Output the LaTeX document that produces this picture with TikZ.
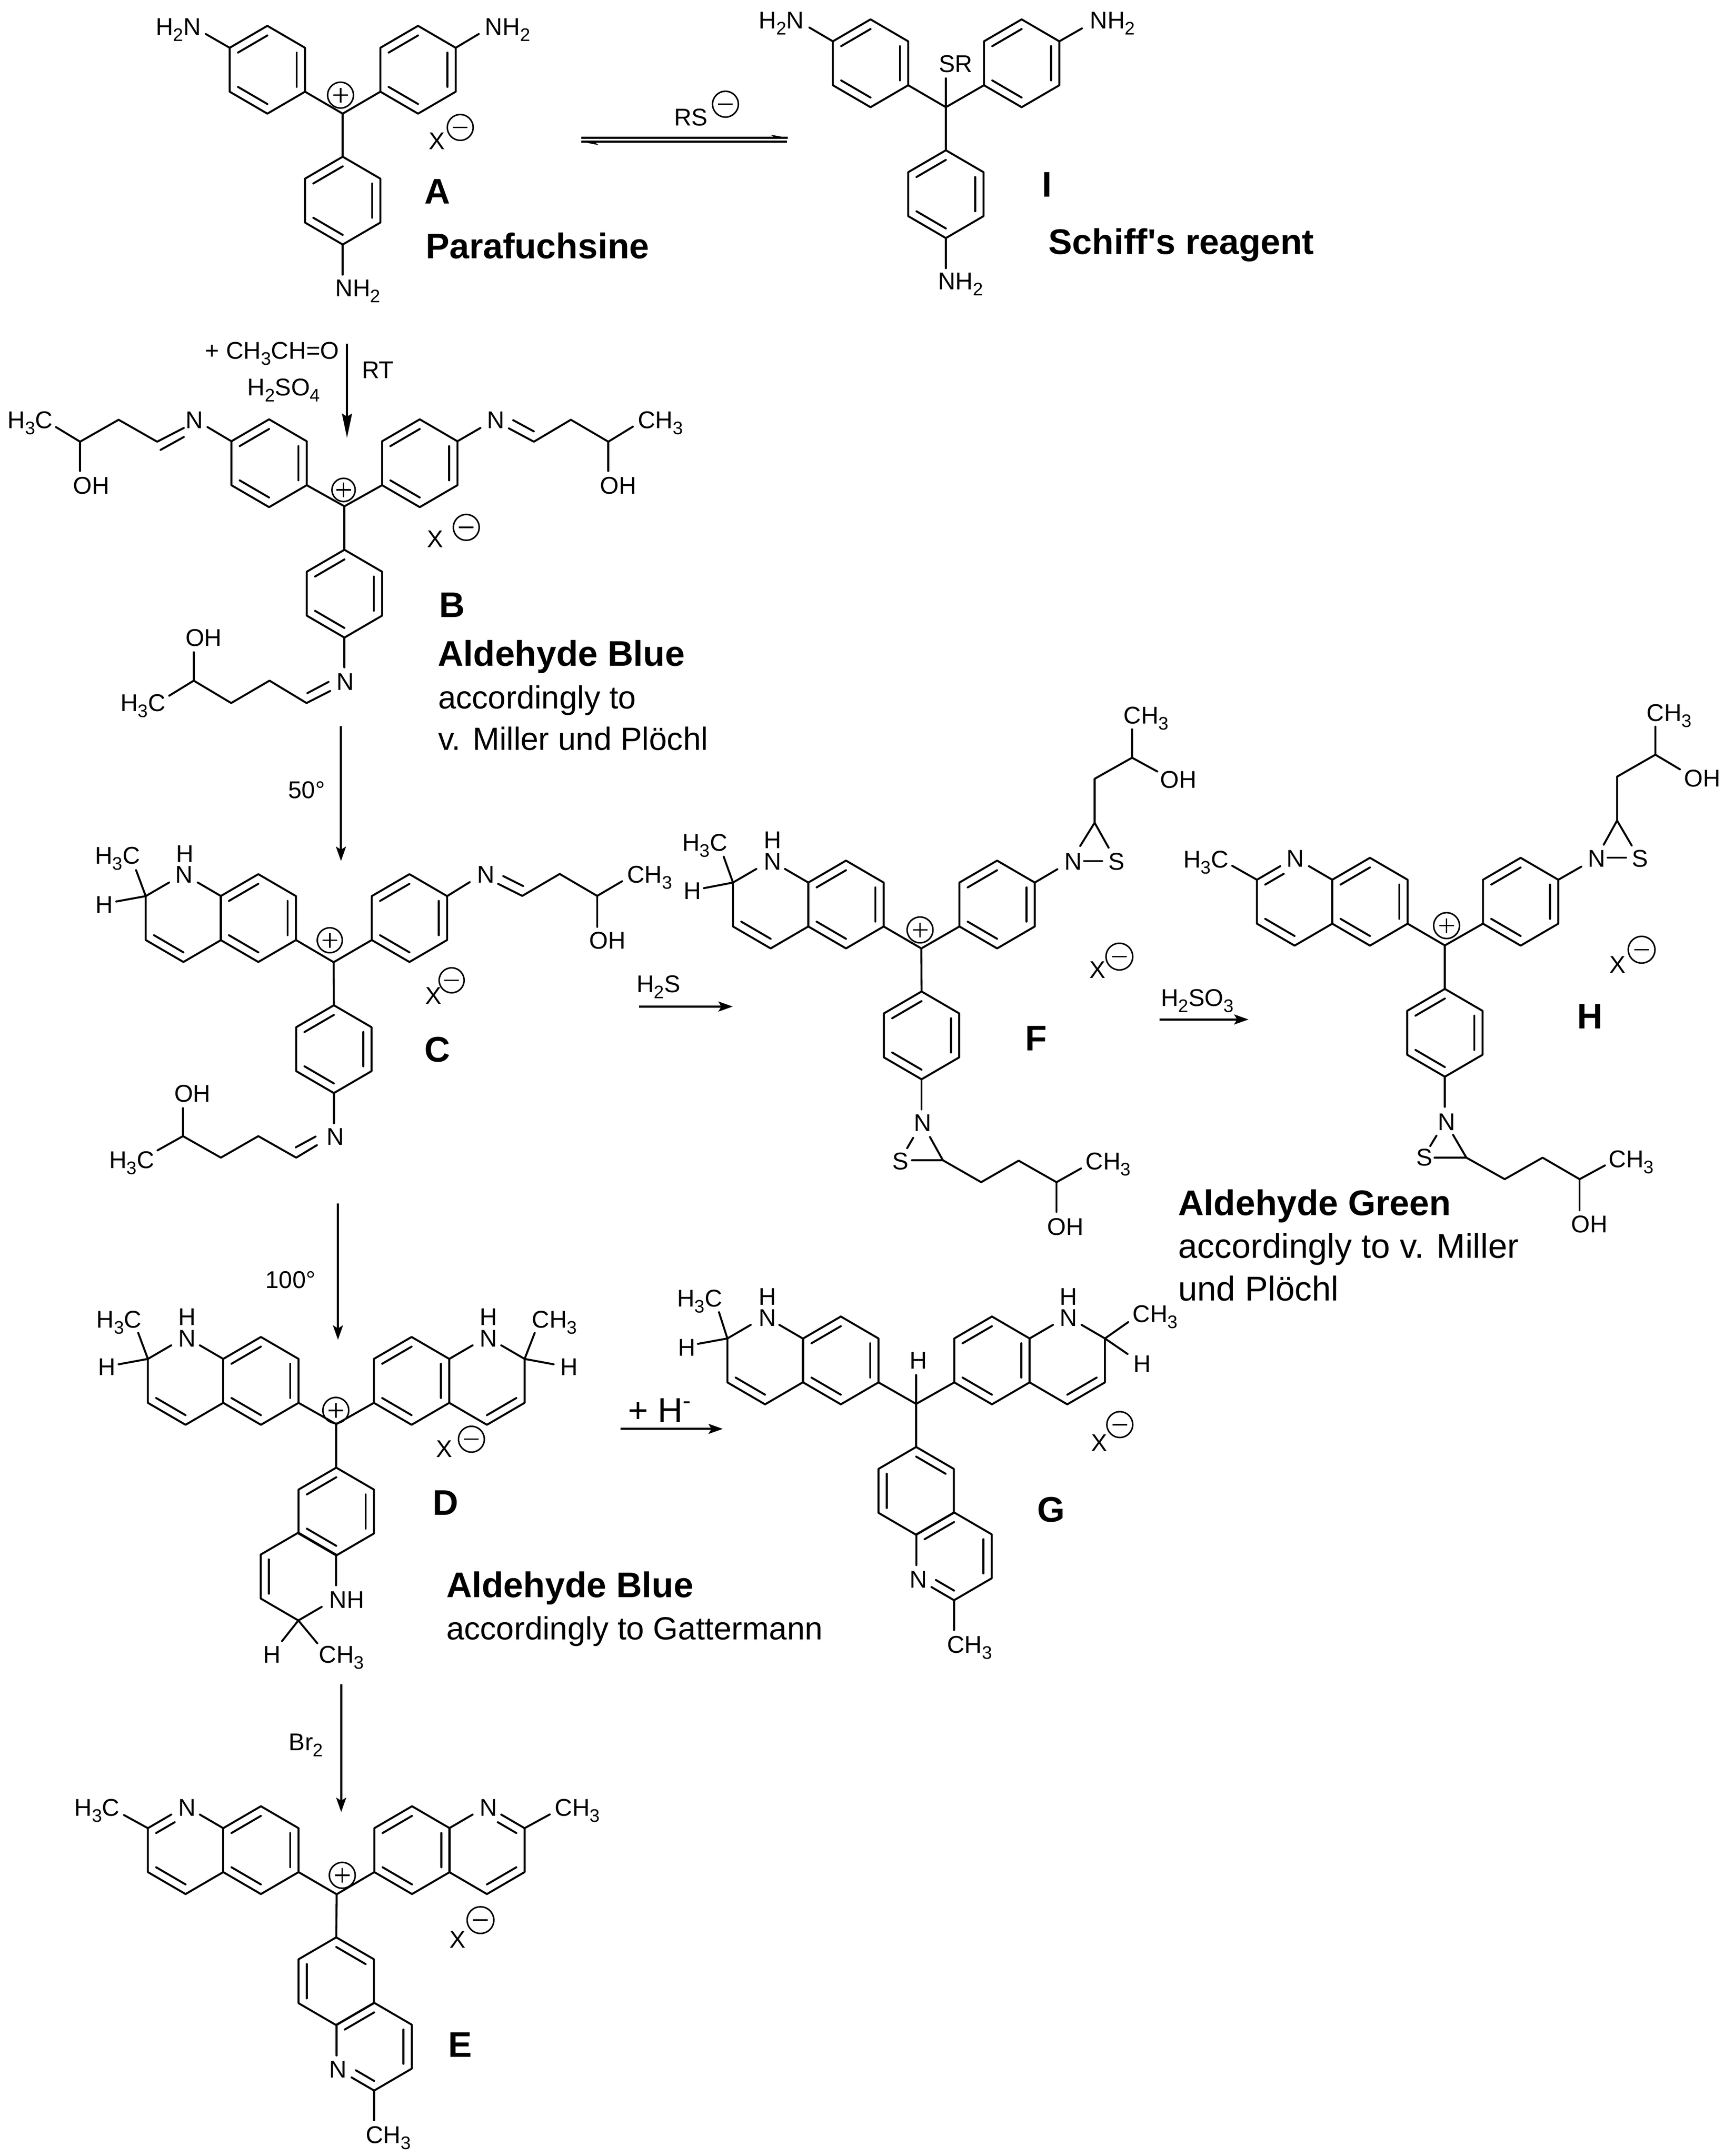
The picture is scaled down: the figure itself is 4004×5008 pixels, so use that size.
\documentclass[tikz,border=0pt]{standalone}
\usepackage{fontspec}
\setmainfont{Liberation Sans}
\usetikzlibrary{calc,arrows.meta}
\newcounter{txt}
\newcommand{\chemfont}{\fontsize{16}{19}\selectfont}
\newcommand{\namefont}{\bfseries\fontsize{23.5}{28}\selectfont}
\newcommand{\notefont}{\fontsize{21.2}{25}\selectfont}
\newcommand{\sbs}[1]{\raisebox{-0.14cm}{\fontsize{12}{14}\selectfont #1}}
\tikzset{
  bond/.style={line width=1.3pt,line cap=round,line join=round,black},
  chg/.style={line width=1pt,black},
  lab/.style={inner sep=0pt,anchor=base west,text=black,font=\chemfont},
  namelab/.style={lab,font=\namefont},
  notelab/.style={lab,font=\notefont},
  rarrow/.style={line width=1.3pt,-{Stealth[length=9.5pt,width=6.6pt,inset=2pt]}},
  longarrow/.style={line width=1.3pt,-{Stealth[length=16pt,width=6.6pt,inset=2pt]}},
}
\newcommand{\Tx}[3]{\stepcounter{txt}\node[lab] (t\arabic{txt}) at (#1,#2) {#3};}
\newcommand{\Tb}[3]{\stepcounter{txt}\node[namelab] (t\arabic{txt}) at (#1,#2) {#3};}
\newcommand{\Tr}[4][21.2]{\stepcounter{txt}\node[notelab,font=\fontsize{#1}{25}\selectfont] (t\arabic{txt}) at (#2,#3) {#4};}
\newcommand{\RingV}[3]{%
  \coordinate (#11) at (#2,#3-102);
  \coordinate (#12) at (#2+87.5,#3-51);
  \coordinate (#13) at (#2+87.5,#3+51);
  \coordinate (#14) at (#2,#3+102);
  \coordinate (#15) at (#2-87.5,#3+51);
  \coordinate (#16) at (#2-87.5,#3-51);
  \coordinate (#1i1) at (#2,#3-79.6);
  \coordinate (#1i2) at (#2+68.25,#3-39.8);
  \coordinate (#1i3) at (#2+68.25,#3+39.8);
  \coordinate (#1i4) at (#2,#3+79.6);
  \coordinate (#1i5) at (#2-68.25,#3+39.8);
  \coordinate (#1i6) at (#2-68.25,#3-39.8);
}
\newcommand{\Dbl}[2]{\edef\tmplist{#2}\foreach \ka/\kb in \tmplist {\draw[bond] (#1i\ka) -- (#1i\kb);}}
\newcommand{\Ring}[4]{\RingV{#1}{#2}{#3}\draw[bond] (#11)--(#12)--(#13)--(#14)--(#15)--(#16)--cycle;\Dbl{#1}{#4}}
% ring whose top vertex is an N label
\newcommand{\NTop}[4]{\RingV{#1}{#2}{#3}%
  \draw[bond] (#16)--(#15)--(#14)--(#13)--(#12);
  \draw[bond] (#16)--($(#16)!.62!(#11)$);
  \draw[bond] (#12)--($(#12)!.62!(#11)$);
  \Dbl{#1}{#4}}
\newcommand{\Pos}[3]{\draw[chg] (#1,#2) circle[radius=#3*0.01cm];
  \draw[chg] (#1-17,#2)--(#1+17,#2); \draw[chg] (#1,#2-17)--(#1,#2+17);}
\newcommand{\Neg}[3]{\draw[chg] (#1,#2) circle[radius=#3*0.01cm];
  \draw[chg] (#1-17,#2)--(#1+17,#2);}
\newcommand{\dpat}{6/1,2/3,4/5}
\begin{document}
\begin{tikzpicture}[x=0.01cm,y=-0.01cm]
\useasboundingbox (0,0) rectangle (4004,5008);
% ---------- A
\Ring{a}{621}{162}{\dpat}\Ring{b}{971}{162}{\dpat}\Ring{c}{796}{466}{\dpat}
\coordinate (ca) at (796,264);
\draw[bond] (a3)--(ca)--(b5); \draw[bond] (ca)--(c1);
\draw[bond] (a6)--(478,79); \draw[bond] (b2)--(1112,79); \draw[bond] (c4)--(796,638);
\Tx{361}{82}{H\sbs{2}N}\Tx{1126}{82}{NH\sbs{2}}\Tx{778}{689}{NH\sbs{2}}
\Pos{791}{221}{30}\Tx{995}{347}{X}\Neg{1069}{296}{30}
\Tb{985}{473}{A}\Tb{988}{600}{Parafuchsine}
% equilibrium
\coordinate (eqa) at (1350,320);\coordinate (eqb) at (1830,320);
\coordinate (eqc) at (1350,329);\coordinate (eqd) at (1828,329);
\draw[line width=1.4pt] (eqa)--(eqb); \draw[line width=1.4pt] (eqc)--(eqd);
\fill (eqb)--(1790,313)--(1800,320)--cycle; \fill (eqc)--(1390,337)--(1380,329)--cycle;
\Tx{1565}{292}{RS}\Neg{1685}{242}{30}
% ---------- I
\Ring{a}{2022}{147}{\dpat}\Ring{b}{2373}{147}{\dpat}\Ring{c}{2197}{451}{\dpat}
\coordinate (ci) at (2197,249);
\draw[bond] (a3)--(ci)--(b5); \draw[bond] (ci)--(c1); \draw[bond] (ci)--(2197,182);
\draw[bond] (a6)--(1880,64); \draw[bond] (b2)--(2513,66); \draw[bond] (c4)--(2197,623);
\Tx{1762}{67}{H\sbs{2}N}\Tx{2531}{67}{NH\sbs{2}}\Tx{2178}{673}{NH\sbs{2}}\Tx{2180}{168}{SR}
\Tb{2420}{457}{I}\Tb{2435}{590}{Schiff\textquotesingle s reagent}
% ---------- arrow A to B
\coordinate (ab1) at (806,798);\coordinate (ab2) at (806,1017);
\draw[longarrow] (ab1)--(ab2);
\Tx{476}{834}{+ CH\sbs{3}CH=O}\Tx{574}{919}{H\sbs{2}SO\sbs{4}}\Tx{840}{879}{RT}
% ---------- B
\Ring{a}{625}{1076}{\dpat}\Ring{b}{975}{1076}{\dpat}\Ring{c}{800}{1379}{\dpat}
\coordinate (cb) at (800,1176);
\draw[bond] (a3)--(cb)--(b5); \draw[bond] (cb)--(c1);
\draw[bond] (a6)--(482,992);
\draw[bond] (427,994)--(365,1026)--(275.5,975)--(186,1026)--(130,992);
\draw[bond] (373,1045)--(427,1015); \draw[bond] (186,1026)--(186,1094);
\Tx{430}{995}{N}\Tx{17}{995}{H\sbs{3}C}\Tx{169}{1147}{OH}
\draw[bond] (b2)--(1116,994);
\draw[bond] (1182,995)--(1240,1026)--(1326,975)--(1413,1026)--(1470,991);
\draw[bond] (1192,976)--(1240,1002); \draw[bond] (1413,1026)--(1413,1094);
\Tx{1131}{995}{N}\Tx{1481}{995}{CH\sbs{3}}\Tx{1393}{1147}{OH}
\draw[bond] (c4)--(800,1550);
\draw[bond] (767,1605)--(712,1633)--(626,1581)--(537,1633)--(450,1581)--(393,1616);
\draw[bond] (714,1610)--(763,1584); \draw[bond] (450,1581)--(450,1515);
\Tx{781}{1603}{N}\Tx{430}{1501}{OH}\Tx{279}{1652}{H\sbs{3}C}
\Pos{798}{1138}{27}\Tx{991}{1272}{X}\Neg{1083}{1225}{30}
\Tb{1019}{1434}{B}\Tb{1016}{1547}{Aldehyde Blue}
\Tr{1017}{1646}{accordingly to}\Tr{1017}{1742}{v. Miller und Plöchl}
% ---------- arrow B to C
\coordinate (bc1) at (792,1687);\coordinate (bc2) at (792,2000);
\draw[rarrow] (bc1)--(bc2);
\Tx{669}{1854}{50°}
% ---------- C
\Ring{a}{600}{2132.5}{\dpat}\NTop{p}{426}{2132.5}{4/5}\Ring{b}{951}{2132.5}{\dpat}\Ring{c}{775.5}{2437}{\dpat}
\coordinate (cc) at (775,2235);
\draw[bond] (a3)--(cc)--(b5); \draw[bond] (cc)--(c1);
\draw[bond] (p6)--(316,2021); \draw[bond] (p6)--(270,2094);
\Tx{220}{2007}{H\sbs{3}C}\Tx{221}{2121}{H}\Tx{408}{2003}{H}\Tx{406}{2051}{N}
\draw[bond] (b2)--(1091,2049);
\draw[bond] (1157,2053)--(1213,2081)--(1300,2030)--(1387,2081)--(1445,2047);
\draw[bond] (1169,2035)--(1215,2058); \draw[bond] (1387,2081)--(1387,2153);
\Tx{1108}{2051}{N}\Tx{1456}{2051}{CH\sbs{3}}\Tx{1368}{2204}{OH}
\draw[bond] (c4)--(775.5,2609);
\draw[bond] (736,2660)--(688,2689)--(600,2639)--(513,2689)--(425,2639)--(366,2672);
\draw[bond] (687,2665)--(733,2640); \draw[bond] (425,2639)--(425,2574);
\Tx{758}{2660}{N}\Tx{404}{2560}{OH}\Tx{253}{2714}{H\sbs{3}C}
\Pos{766}{2184}{29}\Tx{987}{2332}{X}\Neg{1049}{2277}{29}\Tb{985}{2466}{C}
% ---------- arrow C to F
\coordinate (cf1) at (1484,2338);\coordinate (cf2) at (1702,2338);
\draw[rarrow] (cf1)--(cf2);\Tx{1478}{2305}{H\sbs{2}S}
% ---------- F
\Ring{a}{1965}{2101}{\dpat}\NTop{p}{1790}{2101}{4/5}\Ring{b}{2316}{2101}{\dpat}\Ring{c}{2140.5}{2405}{\dpat}
\coordinate (cf) at (2140,2203);
\draw[bond] (a3)--(cf)--(b5); \draw[bond] (cf)--(c1);
\draw[bond] (p6)--(1681,1990); \draw[bond] (p6)--(1635,2063);
\Tx{1584}{1977}{H\sbs{3}C}\Tx{1587}{2089}{H}\Tx{1774}{1971}{H}\Tx{1774}{2021}{N}
\draw[bond] (b2)--(2456,2019);
\Tx{2472}{2021}{N}\Tx{2574}{2021}{S}
\coordinate (fa) at (2542.5,1911);
\draw[bond] (2518,2000)--(2560,2000); \draw[bond] (2509,1965)--(fa)--(2575,1969);
\draw[bond] (fa)--(2542.5,1809)--(2629.5,1760)--(2629.5,1694); \draw[bond] (2629.5,1760)--(2688,1792);
\Tx{2609}{1681}{CH\sbs{3}}\Tx{2694}{1830}{OH}
\Pos{2137}{2160}{30}\Tx{2530}{2272}{X}\Neg{2600}{2222}{31}\Tb{2381}{2440}{F}
\draw[bond] (c4)--(2140.5,2577);
\Tx{2122}{2628}{N}\Tx{2072}{2717}{S}
\coordinate (fb) at (2190,2695);
\draw[bond] (2160,2641)--(fb)--(2118,2695); \draw[bond] (2121,2643)--(2107,2667);
\draw[bond] (fb)--(2279,2746)--(2366,2696)--(2454,2746)--(2511,2714); \draw[bond] (2454,2746)--(2454,2815);
\Tx{2521}{2717}{CH\sbs{3}}\Tx{2432}{2869}{OH}
% ---------- arrow F to H
\coordinate (fh1) at (2693,2368);\coordinate (fh2) at (2900,2368);
\draw[rarrow] (fh1)--(fh2);\Tx{2696}{2337}{H\sbs{2}SO\sbs{3}}
% ---------- H
\Ring{a}{3182}{2094.5}{\dpat}\RingV{p}{3007}{2094.5}
\draw[bond] (p6)--(p5)--(p4)--(p3)--(p2); \draw[bond] (p2)--($(p2)!.62!(p1)$); \draw[bond] (p6)--($(p6)!.62!(p1)$);
\Dbl{p}{4/5}\draw[bond] (pi6)--($(pi6)!.63!(pi1)$);
\draw[bond] (p6)--(2862,2011);
\Ring{b}{3532}{2094.5}{\dpat}\Ring{c}{3356}{2399}{\dpat}
\coordinate (ch) at (3356,2196);
\draw[bond] (a3)--(ch)--(b5); \draw[bond] (ch)--(c1);
\Tx{2748}{2016}{H\sbs{3}C}\Tx{2988}{2014}{N}
\draw[bond] (b2)--(3673,2013);
\Tx{3688}{2014}{N}\Tx{3790}{2014}{S}
\coordinate (ha) at (3756,1906);
\draw[bond] (3734,1992)--(3777,1992); \draw[bond] (3725,1962)--(ha)--(3790,1964);
\draw[bond] (ha)--(3756,1804)--(3845,1753)--(3845,1688); \draw[bond] (3845,1753)--(3902,1787);
\Tx{3824}{1675}{CH\sbs{3}}\Tx{3911}{1827}{OH}
\Pos{3360}{2150}{30}\Tx{3738}{2260}{X}\Neg{3813}{2206}{31}\Tb{3663}{2389}{H}
\draw[bond] (c4)--(3356,2571);
\Tx{3339}{2626}{N}\Tx{3289}{2708}{S}
\coordinate (hb) at (3406,2689);
\draw[bond] (3375,2636)--(hb)--(3332,2689); \draw[bond] (3336.5,2638)--(3322,2662);
\draw[bond] (hb)--(3495,2739)--(3583,2689)--(3669,2739)--(3728,2707); \draw[bond] (3669,2739)--(3669,2811);
\Tx{3736}{2712}{CH\sbs{3}}\Tx{3649}{2863}{OH}
\Tb{2736}{2823}{Aldehyde Green}
\Tr[22.7]{2736}{2922}{accordingly to v. Miller}\Tr[22.7]{2736}{3021}{und Plöchl}
% ---------- arrow C to D
\coordinate (cd1) at (785,2795);\coordinate (cd2) at (785,3112);
\draw[rarrow] (cd1)--(cd2);\Tx{616}{2992}{100°}
% ---------- D
\Ring{a}{606}{3207.5}{\dpat}\NTop{p}{431}{3207.5}{4/5}
\Ring{b}{956}{3207.5}{\dpat}\NTop{q}{1131}{3207.5}{3/4}
\Ring{c}{781}{3511}{\dpat}
\coordinate (cdd) at (781,3308);
\draw[bond] (a3)--(cdd)--(b5); \draw[bond] (cdd)--(c1);
\draw[bond] (p6)--(321,3096); \draw[bond] (p6)--(275.5,3169);
\Tx{223.5}{3084}{H\sbs{3}C}\Tx{227}{3195}{H}\Tx{413}{3078}{H}\Tx{413}{3128}{N}
\draw[bond] (q2)--(1242,3096); \draw[bond] (q2)--(1286,3169);
\Tx{1114}{3078}{H}\Tx{1114}{3128}{N}\Tx{1235}{3084}{CH\sbs{3}}\Tx{1301}{3195}{H}
\RingV{r}{693}{3662}
\draw[bond] (r2)--(r1)--(r6)--(r5)--(r4); \draw[bond] (r2)--($(r2)!.7!(r3)$); \draw[bond] (r4)--($(r4)!.62!(r3)$);
\Dbl{r}{5/6}
\draw[bond] (r4)--(655,3812); \draw[bond] (r4)--(737,3817);
\Tx{764}{3735}{NH}\Tx{611}{3863}{H}\Tx{740}{3863}{CH\sbs{3}}
\Pos{780}{3276}{30}\Tx{1012}{3385}{X}\Neg{1095}{3343}{30}\Tb{1004}{3519}{D}
\Tb{1036}{3710}{Aldehyde Blue}\Tr{1036}{3809}{accordingly to Gattermann}
% ---------- arrow D to G
\coordinate (dg1) at (1441,3319);\coordinate (dg2) at (1679,3319);
\draw[rarrow] (dg1)--(dg2);
\Tr[22.9]{1458}{3304}{+ H\textsuperscript{-}}
% ---------- G
\Ring{a}{1953}{3160}{\dpat}\NTop{p}{1777}{3160}{4/5}
\Ring{b}{2304}{3160}{\dpat}\NTop{q}{2479}{3160}{3/4}
\Ring{c}{2128}{3463}{1/2,5/6}
\coordinate (cg) at (2128,3261);
\draw[bond] (a3)--(cg)--(b5); \draw[bond] (cg)--(c1); \draw[bond] (cg)--(2128,3194);
\draw[bond] (p6)--(1670,3048); \draw[bond] (p6)--(1621,3121.5);
\Tx{1572}{3035}{H\sbs{3}C}\Tx{1574}{3149}{H}\Tx{1762}{3031}{H}\Tx{1762}{3080}{N}
\draw[bond] (q2)--(2620.5,3071); \draw[bond] (q2)--(2619,3145);
\Tx{2461}{3031}{H}\Tx{2461}{3080}{N}\Tx{2630}{3071}{CH\sbs{3}}\Tx{2632}{3188}{H}\Tx{2112}{3180}{H}
\RingV{r}{2216}{3615}
\draw[bond] (r6)--(r1)--(r2)--(r3)--(r4); \draw[bond] (r6)--($(r6)!.7!(r5)$); \draw[bond] (r4)--($(r4)!.6!(r5)$);
\Dbl{r}{6/1,2/3}\draw[bond] (ri4)--($(ri4)!.62!(ri5)$);
\draw[bond] (r4)--(2216,3786);
\Tx{2112}{3688}{N}\Tx{2199}{3840}{CH\sbs{3}}
\Tx{2534}{3371}{X}\Neg{2601}{3309}{30}\Tb{2409}{3535}{G}
% ---------- arrow D to E
\coordinate (de1) at (792.5,3912);\coordinate (de2) at (792.5,4209);
\draw[rarrow] (de1)--(de2);\Tx{670}{4066}{Br\sbs{2}}
% ---------- E
\Ring{a}{606}{4297.5}{\dpat}\RingV{p}{431}{4297.5}
\draw[bond] (p6)--(p5)--(p4)--(p3)--(p2); \draw[bond] (p2)--($(p2)!.62!(p1)$); \draw[bond] (p6)--($(p6)!.62!(p1)$);
\Dbl{p}{4/5}\draw[bond] (pi6)--($(pi6)!.63!(pi1)$);
\draw[bond] (p6)--(288,4216);
\Ring{b}{957}{4297.5}{\dpat}\RingV{q}{1131}{4297.5}
\draw[bond] (q6)--(q5)--(q4)--(q3)--(q2); \draw[bond] (q6)--($(q6)!.62!(q1)$); \draw[bond] (q2)--($(q2)!.62!(q1)$);
\Dbl{q}{3/4}\draw[bond] (qi2)--($(qi2)!.63!(qi1)$);
\draw[bond] (q2)--(1277,4214.5);
\Ring{c}{781}{4602}{1/2,5/6}
\coordinate (ce) at (782,4400);
\draw[bond] (a3)--(ce)--(b5); \draw[bond] (ce)--(c1);
\Tx{172}{4218}{H\sbs{3}C}\Tx{413}{4218}{N}\Tx{1114}{4218}{N}\Tx{1288}{4218}{CH\sbs{3}}
\RingV{r}{869}{4754}
\draw[bond] (r6)--(r1)--(r2)--(r3)--(r4); \draw[bond] (r6)--($(r6)!.7!(r5)$); \draw[bond] (r4)--($(r4)!.6!(r5)$);
\Dbl{r}{6/1,2/3}\draw[bond] (ri4)--($(ri4)!.62!(ri5)$);
\draw[bond] (r4)--(869,4925);
\Tx{764}{4826}{N}\Tx{849}{4978}{CH\sbs{3}}
\Pos{795}{4356}{30}\Tx{1043}{4525}{X}\Neg{1116}{4460}{31}\Tb{1040}{4778}{E}
\end{tikzpicture}
\end{document}
